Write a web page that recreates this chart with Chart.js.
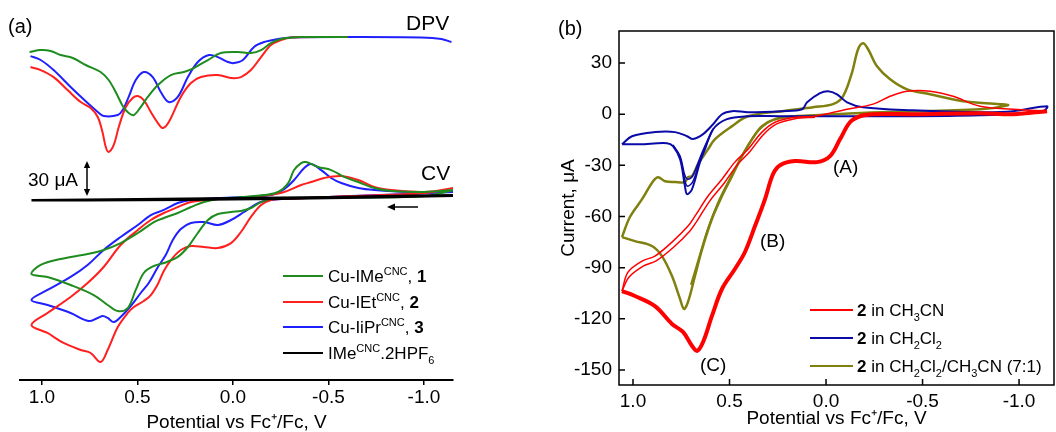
<!DOCTYPE html>
<html>
<head>
<meta charset="utf-8">
<title>Cu CNC voltammetry</title>
<script src="https://cdn.jsdelivr.net/npm/chart.js@4.4.1/dist/chart.umd.min.js"></script>
<style>
  html, body { margin: 0; padding: 0; background: #fff; }
  body { width: 1056px; height: 432px; position: relative; overflow: hidden; }
  canvas { position: absolute; top: 0; }
  #chartA { left: 0; }
  #chartB { left: 540px; }
</style>
</head>
<body>
<canvas id="chartA" width="540" height="432"></canvas>
<canvas id="chartB" width="516" height="432"></canvas>
<script>
// potential in V vs Fc+/Fc, current in uA (DPV traces are offset upwards)
const potentialTicks = [1.0, 0.5, 0.0, -0.5, -1.0];
const currentTicks = [30, 0, -30, -60, -90, -120, -150];

// ---------- panel (a) ----------
const dpvGreen = [[1.065,131.0],[1.007,132.7],[0.955,131.9],[0.902,128.3],[0.839,125.7],[0.771,119.5],[0.693,113.3],[0.651,106.2],[0.614,95.6],[0.577,83.2],[0.546,77.0],[0.519,75.2],[0.483,82.3],[0.446,91.2],[0.393,101.8],[0.325,110.6],[0.257,113.3],[0.205,116.8],[0.131,123.9],[0.063,130.1],[-0.026,131.0],[-0.094,130.1],[-0.147,132.7],[-0.199,138.9],[-0.252,142.5],[-0.304,143.8],[-0.357,144.2],[-0.6,144.2]];
const dpvRed = [[1.060,117.7],[1.007,115.0],[0.939,108.8],[0.866,97.3],[0.797,86.7],[0.745,81.4],[0.708,73.5],[0.682,59.3],[0.666,46.9],[0.651,42.5],[0.624,48.7],[0.598,64.6],[0.561,82.3],[0.525,90.3],[0.498,92.0],[0.467,88.5],[0.430,77.9],[0.393,68.1],[0.367,63.7],[0.336,69.0],[0.273,91.2],[0.220,103.5],[0.168,108.8],[0.079,110.6],[0.010,108.0],[-0.042,108.8],[-0.094,115.0],[-0.147,126.5],[-0.199,137.2],[-0.252,141.6],[-0.304,143.8],[-0.6,144.2]];
const dpvBlue = [[1.060,127.4],[1.007,123.9],[0.939,115.0],[0.850,100.0],[0.761,85.8],[0.708,77.9],[0.677,74.3],[0.603,75.2],[0.577,79.6],[0.546,91.2],[0.509,106.2],[0.467,113.3],[0.420,108.8],[0.378,95.6],[0.336,86.7],[0.289,91.2],[0.236,108.8],[0.184,122.1],[0.126,128.3],[0.079,126.5],[0.026,122.1],[-0.005,121.2],[-0.052,123.9],[-0.110,135.4],[-0.163,139.8],[-0.236,142.5],[-0.304,143.8],[-0.619,144.2],[-0.986,143.8],[-1.091,142.5],[-1.144,139.8]];

const cvBlack = [[1.055,0],[0.5,0.9],[0,1.8],[-0.5,2.7],[-1.154,4.4],[-1.154,3.5],[-0.5,1.5],[0,0.5],[0.5,-0.3],[1.055,-0.5]];
const cvGreen = [[-1.154,8.8],[-1.002,3.5],[-0.619,2.2],[-0.268,1.8],[-0.199,1.0],[-0.147,-1.8],[-0.094,-7.1],[-0.042,-9.7],[0.010,-10.6],[0.079,-12.4],[0.131,-17.7],[0.184,-29.2],[0.236,-41.6],[0.289,-50.4],[0.362,-55.8],[0.414,-58.4],[0.467,-64.6],[0.509,-79.6],[0.551,-95.6],[0.603,-98.2],[0.656,-92.9],[0.729,-84.1],[0.850,-75.2],[0.971,-68.1],[1.055,-65.5],[1.007,-57.5],[0.902,-52.2],[0.761,-47.8],[0.677,-44.2],[0.588,-38.1],[0.498,-29.2],[0.414,-19.5],[0.362,-15.9],[0.289,-11.5],[0.220,-6.2],[0.152,-1.8],[0.079,0.9],[-0.058,2.7],[-0.163,4.4],[-0.236,7.1],[-0.289,15.0],[-0.320,26.5],[-0.357,32.7],[-0.383,33.6],[-0.446,29.2],[-0.514,26.5],[-0.582,20.4],[-0.656,15.9],[-0.740,10.6],[-0.829,8.0],[-1.002,7.1],[-1.154,8.8]];
const cvRed = [[-1.154,10.6],[-1.002,6.2],[-0.619,3.5],[-0.268,0.9],[-0.199,0],[-0.147,-4.4],[-0.094,-15.0],[-0.042,-28.3],[0.010,-38.1],[0.079,-42.5],[0.152,-41.6],[0.220,-40.7],[0.273,-44.2],[0.325,-53.1],[0.362,-62.8],[0.393,-74.3],[0.430,-84.1],[0.467,-89.4],[0.519,-94.7],[0.551,-100.0],[0.603,-112.4],[0.656,-132.7],[0.693,-143.4],[0.745,-135.4],[0.797,-132.7],[0.887,-126.5],[0.971,-117.7],[1.055,-110.6],[0.971,-100.0],[0.850,-85.8],[0.761,-73.5],[0.677,-59.3],[0.588,-39.8],[0.498,-26.5],[0.430,-17.7],[0.362,-11.5],[0.289,-6.2],[0.220,-1.8],[0.079,0.9],[-0.058,1.8],[-0.184,4.4],[-0.268,7.1],[-0.357,13.3],[-0.409,15.9],[-0.477,19.5],[-0.567,21.2],[-0.656,17.7],[-0.740,11.5],[-0.829,8.8],[-1.002,7.1],[-1.154,10.6]];
const cvBlue = [[-1.154,7.1],[-0.918,5.3],[-0.619,3.5],[-0.268,0.9],[-0.199,0],[-0.131,-2.7],[-0.058,-10.6],[0.010,-17.7],[0.079,-22.1],[0.152,-19.5],[0.220,-20.4],[0.273,-25.7],[0.315,-35.4],[0.352,-48.7],[0.393,-59.3],[0.441,-73.5],[0.483,-82.3],[0.535,-93.8],[0.588,-103.5],[0.624,-108.0],[0.656,-104.4],[0.682,-102.7],[0.708,-104.4],[0.756,-107.1],[0.850,-100.0],[0.971,-92.9],[1.055,-88.5],[0.971,-79.6],[0.850,-68.1],[0.761,-57.5],[0.677,-44.2],[0.588,-32.7],[0.498,-22.1],[0.430,-13.3],[0.362,-8.8],[0.289,-2.7],[0.220,0],[0.079,1.8],[-0.058,2.7],[-0.199,4.4],[-0.268,9.7],[-0.320,17.7],[-0.373,28.3],[-0.409,31.9],[-0.462,26.5],[-0.514,19.5],[-0.567,15.0],[-0.656,10.6],[-0.740,8.8],[-0.918,7.1],[-1.154,7.1]];

// ---------- panel (b) ----------
const acnForward = [[-1.145,1.8],[-0.969,0],[-0.798,0.6],[-0.451,0],[-0.244,0],[-0.176,-1.2],[-0.124,-4.7],[-0.073,-14.6],[-0.021,-24.6],[0.047,-28.1],[0.161,-27.5],[0.238,-29.9],[0.275,-35.2],[0.316,-49.8],[0.368,-65.6],[0.420,-80.8],[0.472,-90.8],[0.539,-102.5],[0.591,-118.3],[0.637,-133.6],[0.668,-138.8],[0.694,-135.9],[0.741,-127.7],[0.798,-123.0],[0.886,-112.5],[0.990,-106.6],[1.057,-103.7]];
const acnReverse = [[1.057,-103.7],[1.026,-92.6],[0.953,-86.1],[0.886,-83.2],[0.798,-75.0],[0.715,-65.6],[0.679,-59.8],[0.611,-48.0],[0.539,-38.1],[0.472,-28.1],[0.404,-20.5],[0.332,-10.5],[0.264,-4.7],[0.161,-1.8],[0.057,-1.2],[-0.109,2.9],[-0.244,5.9],[-0.332,10.5],[-0.420,13.5],[-0.539,13.5],[-0.658,10.5],[-0.798,4.7],[-0.969,2.9],[-1.145,1.8]];
const acnReverse2 = [[1.057,-103.7],[1.020,-95.5],[0.945,-89.0],[0.880,-86.0],[0.790,-78.0],[0.705,-68.5],[0.668,-62.5],[0.600,-50.5],[0.528,-40.5],[0.462,-30.0],[0.395,-22.0],[0.325,-12.0],[0.258,-5.8],[0.161,-2.6],[0.057,-1.8]];
const dcm = [[1.057,-17.6],[1.005,-12.9],[0.886,-10.5],[0.782,-10.5],[0.720,-12.9],[0.689,-14.6],[0.637,-11.7],[0.585,-5.9],[0.539,0],[0.487,1.8],[0.404,1.2],[0.228,1.8],[0.124,2.9],[0.098,7.0],[0.031,12.3],[-0.010,13.5],[-0.057,11.7],[-0.109,7.0],[-0.192,4.1],[-0.451,2.3],[-0.798,1.2],[-0.969,1.8],[-1.145,4.7],[-1.124,1.8],[-0.798,-0.6],[-0.280,-1.2],[0.238,-1.2],[0.409,-1.2],[0.513,-2.9],[0.585,-8.8],[0.627,-20.5],[0.653,-28.1],[0.694,-43.9],[0.720,-46.9],[0.731,-42.2],[0.756,-26.4],[0.793,-18.7],[0.824,-17.0],[0.964,-17.6],[1.057,-17.6]];
const dcmCycle2 = [[0.585,-8.8],[0.627,-19.5],[0.653,-27.0],[0.690,-39.5],[0.718,-42.2],[0.731,-39.0],[0.756,-25.5],[0.793,-18.2]];
const dcmCycle3 = [[0.585,-8.5],[0.627,-18.5],[0.653,-25.5],[0.690,-36.0],[0.716,-38.1],[0.731,-36.0],[0.756,-24.5],[0.793,-18.0]];
const mixed = [[1.057,-72.1],[0.990,-74.4],[0.902,-77.3],[0.850,-83.2],[0.798,-94.9],[0.756,-108.4],[0.736,-114.2],[0.715,-110.1],[0.679,-94.9],[0.642,-79.1],[0.591,-61.5],[0.539,-48.0],[0.487,-36.3],[0.435,-24.6],[0.383,-14.6],[0.332,-7.0],[0.264,-2.9],[0.161,-1.2],[0.057,-0.6],[-0.280,1.2],[-0.798,2.9],[-0.943,5.3],[-0.902,5.9],[-0.710,7.6],[-0.539,11.7],[-0.420,14.6],[-0.332,20.5],[-0.264,28.1],[-0.218,38.1],[-0.192,41.6],[-0.166,38.1],[-0.135,24.6],[-0.088,10.5],[-0.036,5.9],[0.067,4.1],[0.228,1.8],[0.404,-1.2],[0.487,-7.0],[0.575,-14.6],[0.611,-20.5],[0.663,-29.3],[0.694,-36.3],[0.715,-36.9],[0.731,-39.8],[0.782,-39.8],[0.834,-39.3],[0.870,-36.9],[0.896,-39.3],[0.953,-49.8],[1.016,-60.3],[1.057,-72.1]];
const mixedCycle2 = [[0.700,-100.0],[0.660,-85.0],[0.610,-66.5],[0.560,-52.0],[0.508,-40.0],[0.455,-28.5],[0.400,-17.5],[0.345,-9.0],[0.275,-3.5],[0.161,-1.2]];

const FONT = "'Liberation Sans', Arial, Helvetica, sans-serif";
Chart.defaults.font.family = FONT;
Chart.defaults.color = '#000';

const GREEN = '#1f8c1f', RED = '#ff1f1f', BLUE = '#2020ff';
const RED_B = '#ff0000', NAVY = '#0a0aa8', OLIVE = '#80800f';

function pts(arr) { return arr.map(p => ({ x: p[0], y: p[1] })); }
function trace(arr, color, width) {
  return { data: pts(arr), borderColor: color, backgroundColor: color, borderWidth: width || 2,
           showLine: true, pointRadius: 0, tension: 0.35, fill: false };
}

// text with superscripts / subscripts / bold pieces, y = baseline
function richText(ctx, x, y, parts, size) {
  ctx.textAlign = 'left';
  ctx.textBaseline = 'alphabetic';
  for (const p of parts) {
    const small = p.sup || p.sub;
    const fs = small ? Math.round(size * 0.62) : size;
    ctx.font = (p.bold ? 'bold ' : '') + fs + 'px ' + FONT;
    const dy = p.sup ? -size * 0.42 : p.sub ? size * 0.28 : 0;
    ctx.fillText(p.t, x, y + dy);
    x += ctx.measureText(p.t).width;
  }
}

function arrowHead(ctx, x, y, dx, dy, size) {
  const px = -dy, py = dx;
  ctx.beginPath();
  ctx.moveTo(x, y);
  ctx.lineTo(x - dx * size + px * size * 0.45, y - dy * size + py * size * 0.45);
  ctx.lineTo(x - dx * size - px * size * 0.45, y - dy * size - py * size * 0.45);
  ctx.closePath();
  ctx.fill();
}

const legendA = [
  { color: GREEN, parts: [{ t: 'Cu-IMe' }, { t: 'CNC', sup: true }, { t: ', ' }, { t: '1', bold: true }] },
  { color: RED, parts: [{ t: 'Cu-IEt' }, { t: 'CNC', sup: true }, { t: ', ' }, { t: '2', bold: true }] },
  { color: BLUE, parts: [{ t: 'Cu-IiPr' }, { t: 'CNC', sup: true }, { t: ', ' }, { t: '3', bold: true }] },
  { color: '#000', parts: [{ t: 'IMe' }, { t: 'CNC', sup: true }, { t: '.2HPF' }, { t: '6', sub: true }] },
];
const legendB = [
  { color: RED_B, parts: [{ t: '2', bold: true }, { t: ' in CH' }, { t: '3', sub: true }, { t: 'CN' }] },
  { color: NAVY, parts: [{ t: '2', bold: true }, { t: ' in CH' }, { t: '2', sub: true }, { t: 'Cl' }, { t: '2', sub: true }] },
  { color: OLIVE, parts: [{ t: '2', bold: true }, { t: ' in CH' }, { t: '2', sub: true }, { t: 'Cl' }, { t: '2', sub: true },
                          { t: '/CH' }, { t: '3', sub: true }, { t: 'CN (7:1)' }] },
];

function drawLegend(ctx, items, x0, x1, tx, rows, size) {
  items.forEach((it, i) => {
    ctx.strokeStyle = it.color;
    ctx.lineWidth = 2;
    ctx.beginPath();
    ctx.moveTo(x0, rows[i]);
    ctx.lineTo(x1, rows[i]);
    ctx.stroke();
    ctx.fillStyle = '#000';
    richText(ctx, tx, rows[i] + size * 0.36, it.parts, size);
  });
}

const panelAExtras = {
  id: 'panelAExtras',
  afterDraw(chart) {
    const ctx = chart.ctx;
    ctx.save();
    ctx.fillStyle = '#000';
    ctx.textBaseline = 'middle';
    ctx.textAlign = 'left';
    ctx.font = '20px ' + FONT;
    ctx.fillText('(a)', 8, 27);
    ctx.font = '21px ' + FONT;
    ctx.fillText('DPV', 406, 24);
    ctx.fillText('CV', 421, 174);
    ctx.font = '19px ' + FONT;
    ctx.fillText('30 μA', 28, 181);
    // 30 uA scale bar
    ctx.strokeStyle = '#000';
    ctx.lineWidth = 1.5;
    ctx.beginPath(); ctx.moveTo(87, 166); ctx.lineTo(87, 191); ctx.stroke();
    arrowHead(ctx, 87, 161, 0, -1, 7);
    arrowHead(ctx, 87, 196, 0, 1, 7);
    // sweep direction
    ctx.beginPath(); ctx.moveTo(418, 207); ctx.lineTo(393, 207); ctx.stroke();
    arrowHead(ctx, 387, 207, -1, 0, 8);
    drawLegend(ctx, legendA, 283, 323, 328, [276, 302, 327, 353], 17);
    ctx.restore();
  }
};

const panelBExtras = {
  id: 'panelBExtras',
  afterDraw(chart) {
    const { ctx, chartArea: a, scales: { x, y } } = chart;
    ctx.save();
    ctx.strokeStyle = '#000';
    ctx.lineWidth = 1.5;
    ctx.strokeRect(a.left, a.top, a.right - a.left, a.bottom - a.top);
    ctx.beginPath();
    potentialTicks.forEach(v => {
      const px = x.getPixelForValue(v);
      ctx.moveTo(px, a.bottom); ctx.lineTo(px, a.bottom - 6);
    });
    currentTicks.forEach(v => {
      const py = y.getPixelForValue(v);
      ctx.moveTo(a.left, py); ctx.lineTo(a.left + 6, py);
    });
    ctx.stroke();
    ctx.fillStyle = '#000';
    ctx.textBaseline = 'middle';
    ctx.textAlign = 'left';
    ctx.font = '20px ' + FONT;
    ctx.fillText('(b)', 18, 29);
    ctx.font = '19px ' + FONT;
    ctx.fillText('(A)', 293, 168);
    ctx.fillText('(B)', 220, 242);
    ctx.fillText('(C)', 160, 366);
    drawLegend(ctx, legendB, 270, 313, 317, [310, 338, 366], 17);
    ctx.restore();
  }
};

const tickFmt = v => Number(v).toFixed(1);

new Chart(document.getElementById('chartA'), {
  type: 'scatter',
  data: {
    datasets: [
      trace(cvBlack, '#000', 2),
      trace(dpvGreen, GREEN), trace(dpvRed, RED), trace(dpvBlue, BLUE),
      trace(cvGreen, GREEN), trace(cvRed, RED), trace(cvBlue, BLUE),
    ]
  },
  options: {
    responsive: false,
    animation: false,
    layout: { padding: { left: 20, right: 87, top: 19, bottom: 0 } },
    plugins: { legend: { display: false }, tooltip: { enabled: false } },
    scales: {
      x: {
        type: 'linear', reverse: true, min: -1.152, max: 1.115,
        afterBuildTicks: s => { s.ticks = potentialTicks.map(v => ({ value: v })); },
        afterFit: s => { s.height = 52; },
        ticks: { font: { size: 19 }, padding: 1, maxRotation: 0, autoSkip: false, callback: tickFmt },
        grid: { drawOnChartArea: false, drawTicks: true, tickLength: 5, color: '#000', lineWidth: 1.5 },
        border: { display: true, color: '#000', width: 2 },
        title: { display: true, text: 'Potential vs Fc⁺/Fc, V', font: { size: 19 }, padding: { top: 0, bottom: -2 } },
      },
      y: { type: 'linear', display: false, min: -159.3, max: 160.2 },
    },
  },
  plugins: [panelAExtras],
});

new Chart(document.getElementById('chartB'), {
  type: 'scatter',
  data: {
    datasets: [
      trace(acnForward, RED_B, 4), trace(acnReverse, RED_B, 1.5), trace(acnReverse2, RED_B, 1.5),
      trace(dcm, NAVY, 2), trace(dcmCycle2, NAVY, 1.5), trace(dcmCycle3, NAVY, 1.5),
      trace(mixed, OLIVE, 2.5), trace(mixedCycle2, OLIVE, 2),
    ]
  },
  options: {
    responsive: false,
    animation: false,
    layout: { padding: { left: 0, right: 2, top: 31, bottom: 0 } },
    plugins: { legend: { display: false }, tooltip: { enabled: false } },
    scales: {
      x: {
        type: 'linear', reverse: true, min: -1.181, max: 1.0725,
        afterBuildTicks: s => { s.ticks = potentialTicks.map(v => ({ value: v })); },
        afterFit: s => { s.height = 47; },
        ticks: { font: { size: 19 }, padding: 5, maxRotation: 0, autoSkip: false, callback: tickFmt },
        grid: { display: false, drawTicks: false, tickLength: 0 },
        border: { display: false },
        title: { display: true, text: 'Potential vs Fc⁺/Fc, V', font: { size: 19 }, padding: { top: 0, bottom: 2 } },
      },
      y: {
        type: 'linear', min: -158.8, max: 48.8,
        afterBuildTicks: s => { s.ticks = currentTicks.map(v => ({ value: v })); },
        afterFit: s => { s.width = 79; },
        ticks: { font: { size: 19 }, padding: 7, autoSkip: false, callback: v => String(v) },
        grid: { display: false, drawTicks: false, tickLength: 0 },
        border: { display: false },
        title: { display: true, text: 'Current, μA', font: { size: 19 }, padding: { top: 17, bottom: 0 } },
      },
    },
  },
  plugins: [panelBExtras],
});
</script>
</body>
</html>
